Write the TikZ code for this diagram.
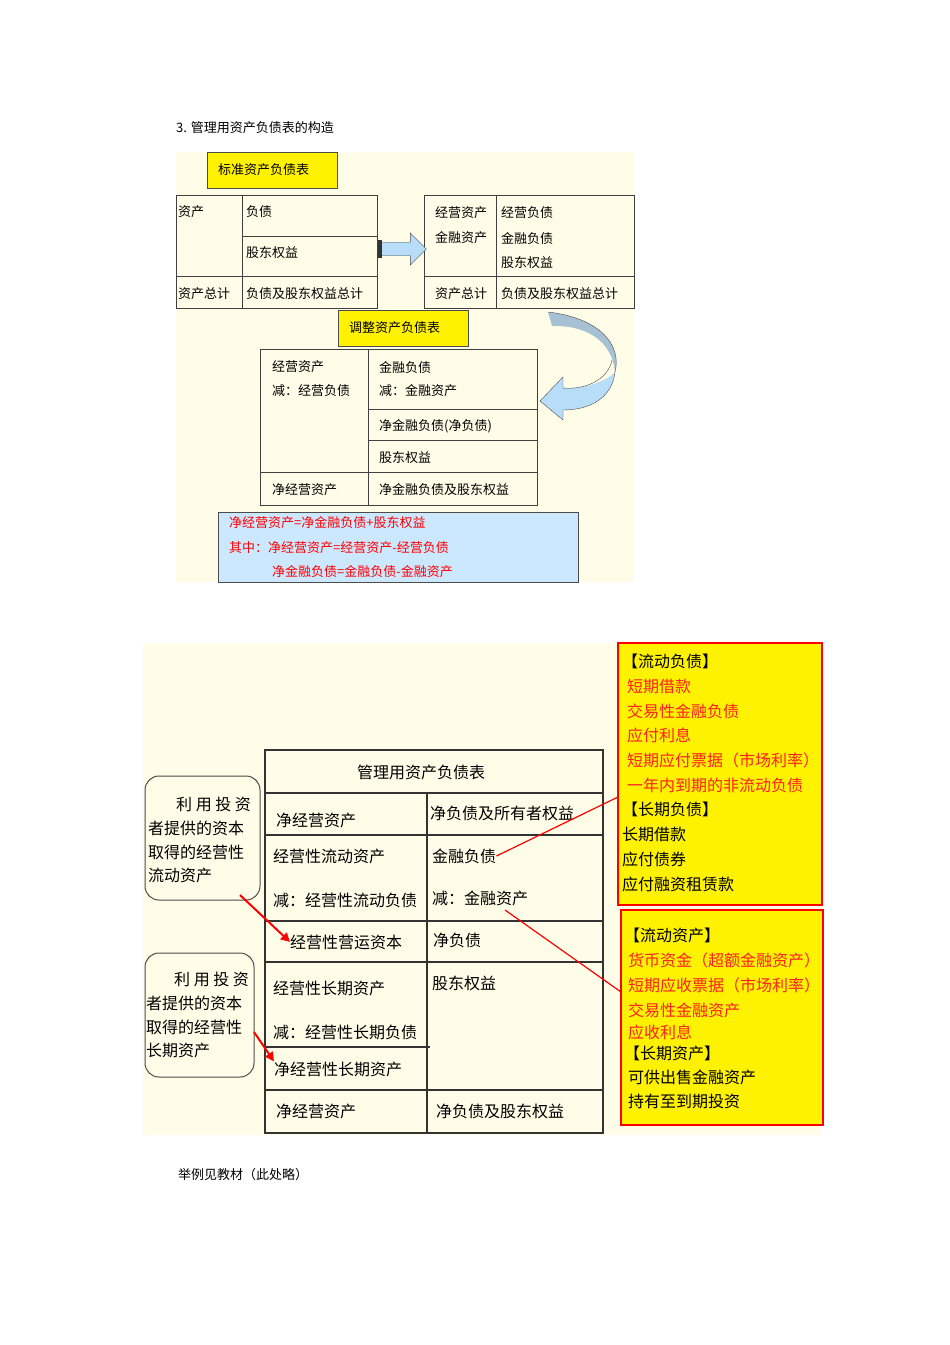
\documentclass[tikz,border=0pt]{standalone}
\usepackage{fontspec}
\setmainfont{Noto Sans CJK SC}
\usetikzlibrary{arrows.meta,shapes.arrows}
\definecolor{cream}{HTML}{FFFDE8}
\definecolor{lblue}{HTML}{CCE8FF}
\definecolor{ared}{HTML}{FF2020}
\definecolor{ablue}{HTML}{B8DDF8}
\tikzset{
 t/.style={anchor=west,inner sep=0pt,font=\fontsize{13}{13}\selectfont},
 tb/.style={anchor=west,inner sep=0pt,font=\fontsize{16}{16}\selectfont},
 ln/.style={draw=black!75,line width=1pt},
 bl/.style={draw=black!80,line width=1.6pt},
 ybox/.style={fill=yellow,draw=black!70,line width=1pt},
 rbox/.style={fill=yellow,draw=red,line width=1.5pt},
 rd/.style={text=red},
}
\begin{document}
\begin{tikzpicture}[x=1pt,y=-1pt]
\useasboundingbox[fill=white] (0,0) rectangle (950,1345);
\node[t] (h) at (176,128) {3. 管理用资产负债表的构造};
% top background
\fill[cream] (176,152) rectangle (634,582);
\draw[ybox] (207,152) rectangle (337,188);
\node[t] (y1) at (218,170) {标准资产负债表};
% left table
\draw[ln] (176,195) rectangle (377,308);
\draw[ln] (242,195) -- (242,308) (242,236) -- (377,236) (176,276) -- (377,276);
\node[t] at (178,212) {资产};
\node[t] at (246,212) {负债};
\node[t] at (246,253) {股东权益};
\node[t] at (178,294) {资产总计};
\node[t] at (246,294) {负债及股东权益总计};
% right table
\draw[ln] (424,195) rectangle (634,308);
\draw[ln] (496,195) -- (496,308) (424,276) -- (634,276);
\node[t] at (435,213) {经营资产};
\node[t] at (435,238) {金融资产};
\node[t] at (501,213) {经营负债};
\node[t] at (501,238) {金融负债};
\node[t] at (501,263) {股东权益};
\node[t] at (435,294) {资产总计};
\node[t] at (501,294) {负债及股东权益总计};
% straight block arrow
\node[single arrow,fill=ablue,draw=black!70,minimum height=46pt,minimum width=32pt,single arrow head extend=3pt,inner sep=2pt] (ba) at (400,249) {};
\fill[black!80] (378,240) rectangle (382,258);
% second yellow
\draw[ybox] (338,310) rectangle (468,346);
\node[t] at (349,328) {调整资产负债表};
% curved arrow
\fill[ablue!70!gray] (548,312) .. controls (600,318) and (622,345) .. (615,372) .. controls (612,340) and (585,325) .. (552,326) -- cycle;
\fill[ablue] (615,372) .. controls (612,398) and (590,410) .. (563,410) -- (563,420) -- (540,401) -- (563,377) -- (563,388) .. controls (585,390) and (608,380) .. (615,372) -- cycle;
\draw[black!70] (548,312) .. controls (600,318) and (622,345) .. (615,372) .. controls (612,398) and (590,410) .. (563,410) -- (563,420) -- (540,401) -- (563,377) -- (563,388) .. controls (585,390) and (608,380) .. (612,360);
% middle table
\draw[ln] (260,349) rectangle (537,505);
\draw[ln] (368,349) -- (368,505) (368,409) -- (537,409) (368,440) -- (537,440) (260,472) -- (537,472);
\node[t] at (272,367) {经营资产};
\node[t] at (272,391) {减：经营负债};
\node[t] at (379,367) {金融负债};
\node[t] at (379,391) {减：金融资产};
\node[t] at (379,426) {净金融负债(净负债)};
\node[t] at (379,458) {股东权益};
\node[t] at (272,490) {净经营资产};
\node[t] at (379,490) {净金融负债及股东权益};
% blue box
\draw[fill=lblue,draw=black!70,line width=1pt] (218,512) rectangle (578,582);
\node[t,rd] at (229,523) {净经营资产=净金融负债+股东权益};
\node[t,rd] at (229,548) {其中：净经营资产=经营资产-经营负债};
\node[t,rd] at (272,572) {净金融负债=金融负债-金融资产};
% bottom
\fill[cream] (143,643) rectangle (822,1135);
\draw[bl] (265,750) rectangle (603,1133);
\draw[bl] (265,793) -- (603,793) (265,835) -- (603,835) (265,921) -- (603,921) (265,962) -- (603,962) (265,1090) -- (603,1090) (265,1047) -- (430,1047) (427,793) -- (427,1133);
\node[tb] at (357,772) {管理用资产负债表};
\node[tb] at (276,820) {净经营资产};
\node[tb] at (430,813) {净负债及所有者权益};
\node[tb] at (273,856) {经营性流动资产};
\node[tb] (jr) at (432,856) {金融负债};
\node[tb] at (273,900) {减：经营性流动负债};
\node[tb] (jz) at (432,898) {减：金融资产};
\node[tb] (yy) at (290,942) {经营性营运资本};
\node[tb] at (433,940) {净负债};
\node[tb] at (273,988) {经营性长期资产};
\node[tb] at (432,983) {股东权益};
\node[tb] at (273,1032) {减：经营性长期负债};
\node[tb] (cq) at (274,1069) {净经营性长期资产};
\node[tb] at (276,1111) {净经营资产};
\node[tb] at (436,1111) {净负债及股东权益};
% rounded boxes
\node[draw=black!70,line width=1pt,rounded corners=14pt,minimum width=115pt,minimum height=124pt,inner sep=0pt] (r1) at (202.5,838) {};
\node[draw=black!70,line width=1pt,rounded corners=14pt,minimum width=109pt,minimum height=124pt,inner sep=0pt] (r2) at (199.5,1015) {};
\node[tb] at (176,804) {利 用 投 资};
\node[tb] at (148,828) {者提供的资本};
\node[tb] at (148,852) {取得的经营性};
\node[tb] at (148,875) {流动资产};
\node[tb] at (174,979) {利 用 投 资};
\node[tb] at (146,1003) {者提供的资本};
\node[tb] at (146,1027) {取得的经营性};
\node[tb] at (146,1050) {长期资产};
\coordinate (a1) at (240,895);
\coordinate (a2) at (254,1032);
\draw[red,line width=2pt,-{Triangle[length=9pt,width=9pt]}] (a1) -- (yy.west);
\draw[red,line width=2pt,-{Triangle[length=9pt,width=9pt]}] (a2) -- (cq.north west);
% yellow red boxes
\draw[rbox] (618,643) rectangle (822,905);
\draw[rbox] (621,910) rectangle (823,1125);
\coordinate (c1) at (618,797);
\coordinate (c2) at (621,992);
\draw[red,line width=1.2pt] (jr.east) -- (c1);
\draw[red,line width=1.2pt] (505,910) -- (c2);
\node[tb] at (622,661) {【流动负债】};
\node[tb,text=ared] at (627,686) {短期借款};
\node[tb,text=ared] at (627,711) {交易性金融负债};
\node[tb,text=ared] at (627,735) {应付利息};
\node[tb,text=ared] at (627,760) {短期应付票据（市场利率）};
\node[tb,text=ared] at (627,785) {一年内到期的非流动负债};
\node[tb] at (622,809) {【长期负债】};
\node[tb] at (622,834) {长期借款};
\node[tb] at (622,859) {应付债券};
\node[tb] at (622,884) {应付融资租赁款};
\node[tb] at (624,935) {【流动资产】};
\node[tb,text=ared] at (628,960) {货币资金（超额金融资产）};
\node[tb,text=ared] at (628,985) {短期应收票据（市场利率）};
\node[tb,text=ared] at (628,1010) {交易性金融资产};
\node[tb,text=ared] at (628,1032) {应收利息};
\node[tb] at (624,1053) {【长期资产】};
\node[tb] at (628,1077) {可供出售金融资产};
\node[tb] at (628,1101) {持有至到期投资};
\node[t] at (178,1175) {举例见教材（此处略）};
\end{tikzpicture}
\end{document}
